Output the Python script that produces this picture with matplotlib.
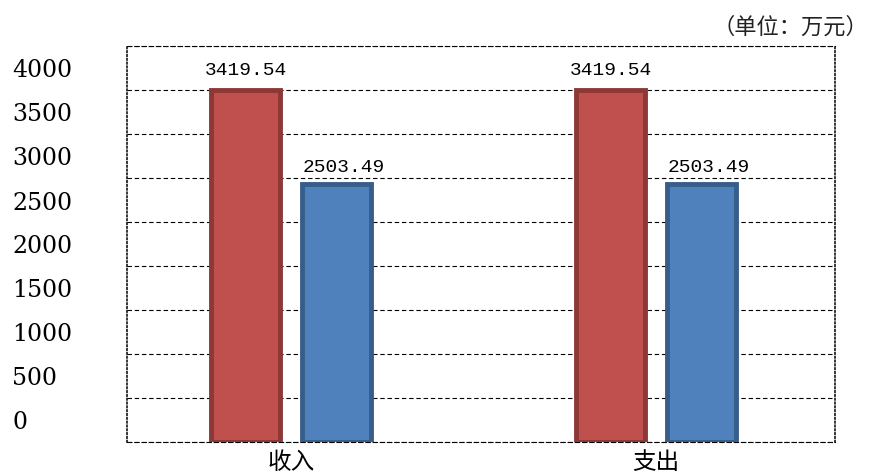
import matplotlib
matplotlib.use("Agg")
import matplotlib.pyplot as plt
import numpy as np
from matplotlib.transforms import offset_copy

plt.rcParams['font.family'] = ['Noto Sans CJK SC', 'DejaVu Sans']

# data
categories = ["收入", "支出"]
series_red = [3419.54, 3419.54]
series_blue = [2503.49, 2503.49]
ytick_labels = ["0", "500", "1000", "1500", "2000", "2500", "3000", "3500", "4000"]
unit_text = "（单位：万元）"

fig = plt.figure(figsize=(8.72, 4.77), dpi=100)
ax = fig.add_axes([127/872, 34/477, 708/872, 396/477])

x = np.arange(len(categories))
ymax = 3850
ax.set_xlim(-0.449, 1.49)
ax.set_ylim(0, ymax)

w = 0.19
ax.bar(x - 0.124, series_red, width=w, color="#C0504D", edgecolor="#8C3836",
       linewidth=3.5, zorder=3)
ax.bar(x + 0.124, series_blue, width=w, color="#4F81BD", edgecolor="#385D8A",
       linewidth=3.5, zorder=3)

# value labels
for xi, v in zip(x - 0.124, series_red):
    ax.annotate(f"{v:.2f}", (xi, v), xytext=(0, 9), textcoords="offset points",
                ha="center", va="bottom", fontsize=14, family="Liberation Mono")
for xi, v in zip(x + 0.124, series_blue):
    ax.annotate(f"{v:.2f}", (xi + 0.02, v), xytext=(0, 7), textcoords="offset points",
                ha="center", va="bottom", fontsize=14, family="Liberation Mono")

# grid
grid = np.linspace(0, ymax, 10)
ax.set_yticks(grid)
ax.tick_params(axis="y", length=0, labelleft=False)
ax.yaxis.grid(True, color="black", linewidth=0.8, linestyle=(0, (4, 2.5)))
ax.set_axisbelow(True)

for s in ["top", "bottom"]:
    ax.spines[s].set_linestyle((0, (4, 2.5)))
    ax.spines[s].set_linewidth(0.8)
for s in ["left", "right"]:
    ax.spines[s].set_linestyle((0, (1, 1.5)))
    ax.spines[s].set_linewidth(1.1)

# y labels, sitting above their grid lines
tr = offset_copy(ax.get_yaxis_transform(), fig=fig, y=20, units="dots")
for i, lab in enumerate(ytick_labels):
    ax.text(-0.162, grid[i], lab, transform=tr, ha="left", va="center",
            fontsize=17, family="DejaVu Serif")

ax.set_xticks(x, labels=categories)
ax.tick_params(axis="x", length=0, pad=6, labelsize=17)

fig.text(868/872, 1 - 27/477, unit_text, ha="right", va="center", fontsize=16,
         color="#222222")

fig.savefig("out.png", dpi=100)
